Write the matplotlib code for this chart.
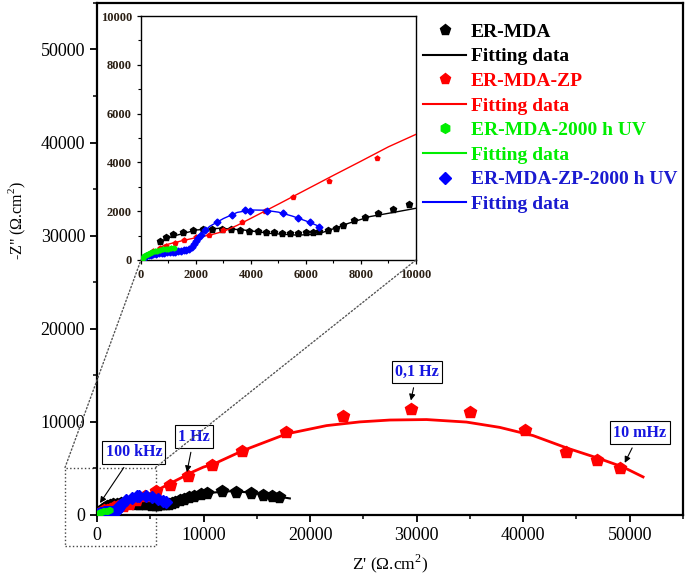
import matplotlib
matplotlib.use('Agg')
import matplotlib.pyplot as plt
from matplotlib.lines import Line2D
from matplotlib.patches import Rectangle, ConnectionPatch
import numpy as np

plt.rcParams['font.family'] = ['Liberation Serif', 'DejaVu Serif']
plt.rcParams['mathtext.fontset'] = 'custom'
plt.rcParams['mathtext.rm'] = 'Liberation Serif'

# ER-MDA
mda_x = [690, 910, 1180, 1540, 1880, 2240, 2590, 2930, 3270, 3600, 3930, 4240, 4530, 4840, 5110,
         5420, 5700, 5990, 6240, 6480, 6790, 7080, 7360, 7750, 8150, 8630, 9150, 9760, 10290,
         11700, 13040, 14420, 15600, 16380, 17100]
mda_y = [790, 930, 1050, 1160, 1230, 1270, 1280, 1280, 1260, 1230, 1200, 1190, 1130, 1130, 1120,
         1120, 1120, 1130, 1130, 1190, 1230, 1330, 1430, 1640, 1750, 1940, 2080, 2300, 2380,
         2590, 2520, 2380, 2200, 2060, 1920]
mda_fit_x = [690, 1180, 2020, 2870, 3720, 4690, 5660, 6390, 6870, 7480, 8330, 9180, 10000,
             11000, 12500, 14000, 15500, 17000, 18100]
mda_fit_y = [750, 980, 1230, 1300, 1230, 1090, 1020, 1050, 1230, 1480, 1780, 1950, 2120,
             2420, 2550, 2450, 2250, 1980, 1780]

# ER-MDA-ZP
zp_x = [100, 250, 450, 700, 900, 1240, 1580, 1990, 2480, 3000, 3680, 4510, 5540, 6850, 8570,
        10820, 13570, 17730, 23050, 29460, 34990, 40150, 44060, 46970, 49120]
zp_y = [90, 200, 370, 500, 570, 680, 820, 930, 1020, 1230, 1570, 2020, 2570, 3240, 4170,
        5400, 6860, 8880, 10590, 11370, 11010, 9130, 6750, 5860, 5040]
zp_fit_x = [0, 300, 870, 1500, 2020, 2500, 3000, 3500, 4000, 5000, 6000, 7000, 8000, 9000, 10000,
            11000, 13720, 17790, 21540, 24670, 27500, 30930, 34680, 37800, 40930, 44060, 47190,
            49370, 51250]
zp_fit_y = [0, 250, 615, 790, 920, 1020, 1170, 1420, 1710, 2290, 2880, 3470, 4050, 4640, 5150,
            5500, 6930, 8710, 9600, 10000, 10200, 10250, 9980, 9410, 8530, 7210, 6040,
            5150, 4090]

# ER-MDA-2000 h UV
uv_x = [20, 60, 110, 170, 240, 320, 400, 500, 600, 700, 800, 900, 1000, 1100, 1200]
uv_y = [40, 100, 160, 210, 250, 290, 320, 350, 380, 410, 430, 450, 470, 490, 500]
uv_fit_x = [0, 200, 500, 800, 1200]
uv_fit_y = [0, 230, 350, 430, 500]

# ER-MDA-ZP-2000 h UV
zpuv_x = [30, 80, 130, 200, 280, 360, 450, 550, 650, 750, 850, 950, 1050, 1150, 1250, 1350,
          1450, 1550, 1650, 1750, 1850, 1930, 2000, 2080, 2170, 2330, 2750, 3300, 3780, 3960,
          4570, 5180, 5720, 6150, 6480]
zpuv_y = [30, 80, 120, 160, 190, 210, 230, 250, 270, 290, 300, 310, 320, 330, 340, 350,
          370, 390, 420, 460, 540, 640, 760, 900, 1030, 1230, 1570, 1840, 2050, 2020,
          2010, 1910, 1710, 1540, 1370]
zpuv_fit_x = [0, 400, 1000, 1500, 1800, 2000, 2200, 2500, 3000, 3500, 4000, 4500, 5000, 5500,
              6000, 6500]
zpuv_fit_y = [0, 200, 310, 380, 500, 760, 1070, 1380, 1700, 1950, 2050, 2040, 1960, 1800,
              1600, 1370]

green = '#00ee00'
blue = '#0000ff'
red = '#ff0000'

fig = plt.figure(figsize=(6.85, 5.78), dpi=100)
ax = fig.add_axes([0.1416, 0.109, 0.8555, 0.886])

ax.plot(mda_fit_x, mda_fit_y, color='k', lw=1.5, zorder=2)
ax.plot(mda_x, mda_y, 'p', color='k', ms=8.5, zorder=3)
ax.plot(zp_fit_x, zp_fit_y, color=red, lw=2, zorder=4)
ax.plot(zp_x, zp_y, 'p', color=red, ms=9, zorder=5)
ax.plot(zpuv_fit_x, zpuv_fit_y, color=blue, lw=1.5, zorder=6)
ax.plot(zpuv_x, zpuv_y, 'D', color=blue, ms=6.5, zorder=6)
ax.plot(uv_fit_x, uv_fit_y, color=green, lw=1.5, zorder=7)
ax.plot(uv_x, uv_y, 'h', color=green, ms=4, zorder=7)

ax.set_xlim(0, 55000)
ax.set_ylim(0, 54700)
ax.set_xticks(np.arange(0, 50001, 10000))
ax.set_xticks(np.arange(0, 55001, 5000), minor=True)
ax.set_yticks(np.arange(0, 50001, 10000))
ax.set_yticks(np.arange(0, 55001, 5000), minor=True)
ax.tick_params(direction='out', length=5, width=1.3, labelsize=13, top=False, right=False)
ax.tick_params(which='minor', direction='out', length=3, width=1.1)
for s in ax.spines.values():
    s.set_linewidth(1.6)
ax.set_xlabel("Z' ($\\Omega$.cm$^2$)", fontsize=12.5, labelpad=6)
ax.set_ylabel('-Z" ($\\Omega$.cm$^2$)', fontsize=11.5)
ax.yaxis.set_label_coords(-0.118, 0.575)

# zoom rectangle
ax.add_patch(Rectangle((-3000, -3300), 8500, 8400, fill=False, ls=':', lw=1, ec='#444',
                       clip_on=False, zorder=1))

# annotations
box = dict(boxstyle='square,pad=0.2', fc='white', ec='k', lw=0.8)
ann = [('100 kHz', (280, 1280), (3470, 6720)),
       ('1 Hz', (8440, 4600), (9100, 8420)),
       ('0,1 Hz', (29460, 12300), (30020, 15350)),
       ('10 mHz', (49530, 5600), (50940, 8850))]
for txt, xy, xyt in ann:
    ax.annotate(txt, xy=xy, xytext=xyt, ha='center', va='center', fontsize=11.5,
                fontweight='bold', color='#1515e0', bbox=box, zorder=10,
                arrowprops=dict(arrowstyle='-|>', color='k', lw=0.8, mutation_scale=9,
                                shrinkA=3, shrinkB=0))

# inset
axin = fig.add_axes([0.2058, 0.5502, 0.4015, 0.4221])
axin.plot(mda_fit_x, mda_fit_y, color='k', lw=1, zorder=2)
axin.plot(mda_x, mda_y, 'p', color='k', ms=4.5, zorder=3)
axin.plot(zp_fit_x, zp_fit_y, color=red, lw=1, zorder=4)
axin.plot(zp_x, zp_y, 'p', color=red, ms=3.5, zorder=5)
axin.plot(zpuv_fit_x, zpuv_fit_y, color=blue, lw=1, zorder=6)
axin.plot(zpuv_x, zpuv_y, 'D', color=blue, ms=3.5, zorder=6)
axin.plot(uv_fit_x, uv_fit_y, color=green, lw=1, zorder=7)
axin.plot(uv_x, uv_y, 'h', color=green, ms=3.5, zorder=7)
axin.set_xlim(0, 10000)
axin.set_ylim(0, 10000)
axin.set_xticks(np.arange(0, 10001, 2000))
axin.set_xticks(np.arange(0, 10001, 1000), minor=True)
axin.set_yticks(np.arange(0, 10001, 2000))
axin.set_yticks(np.arange(0, 10001, 1000), minor=True)
axin.tick_params(direction='out', length=3, width=0.9, labelsize=9, labelcolor='#2a1f14')
axin.tick_params(which='minor', direction='out', length=2, width=0.8)
for lab in axin.get_xticklabels() + axin.get_yticklabels():
    lab.set_fontweight('bold')
for s in axin.spines.values():
    s.set_linewidth(1)

# connector lines
for xa, xb in [((-3000, 5100), (0, 0)), ((5500, 5100), (1, 0))]:
    con = ConnectionPatch(xyA=xa, coordsA=ax.transData, xyB=xb, coordsB=axin.transAxes,
                          ls=':', lw=1, color='#555')
    fig.add_artist(con)

# legend
handles = [Line2D([], [], marker='p', ls='none', color='k', ms=8),
           Line2D([], [], color='k', lw=1.5),
           Line2D([], [], marker='p', ls='none', color=red, ms=8),
           Line2D([], [], color=red, lw=1.5),
           Line2D([], [], marker='h', ls='none', color=green, ms=7),
           Line2D([], [], color=green, lw=1.5),
           Line2D([], [], marker='D', ls='none', color=blue, ms=6),
           Line2D([], [], color=blue, lw=1.5)]
labels = ['ER-MDA', 'Fitting data', 'ER-MDA-ZP', 'Fitting data', 'ER-MDA-2000 h UV',
          'Fitting data', 'ER-MDA-ZP-2000 h UV', 'Fitting data']
colors = ['k', 'k', red, red, green, green, '#1a1ad0', '#1a1ad0']
leg = fig.legend(handles, labels, loc='upper left', bbox_to_anchor=(0.618, 0.96),
                 frameon=False, prop={'size': 14, 'weight': 'bold'}, labelcolor=colors,
                 handlelength=2.2, handletextpad=0.25, labelspacing=0.36,
                 borderpad=0, borderaxespad=0)

fig.savefig('out.png', dpi=100)
